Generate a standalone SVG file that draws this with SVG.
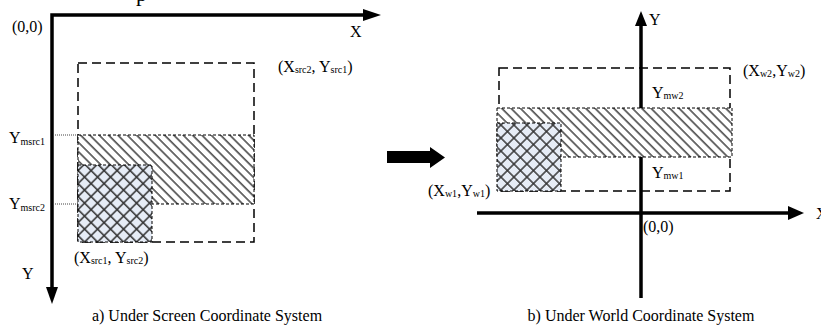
<svg xmlns="http://www.w3.org/2000/svg" width="821" height="329" viewBox="0 0 821 329">
<style>
text{font-family:"Liberation Serif","Times New Roman",serif;fill:#000;font-size:16px}
.sub{font-size:10px}
.axis{stroke:#000;stroke-width:3.5;fill:none}
.outer{fill:none;stroke:#000;stroke-width:1.5;stroke-dasharray:9 5}
.band{fill:url(#hatch);stroke:#000;stroke-width:1;stroke-dasharray:3 2}
.cross{fill:url(#cross);stroke:#000;stroke-width:1;stroke-dasharray:3 2}
.guide{stroke:#444;stroke-width:1;stroke-dasharray:1 1}
</style>
<defs>
<pattern id="hatch" patternUnits="userSpaceOnUse" width="6.6" height="6.6" patternTransform="rotate(-45)">
<rect width="6.6" height="6.6" fill="#fff"/>
<line x1="1" y1="0" x2="1" y2="6.6" stroke="#222" stroke-width="1.3"/>
</pattern>
<pattern id="cross" patternUnits="userSpaceOnUse" width="9.2" height="9.2" patternTransform="rotate(45)">
<rect width="9.2" height="9.2" fill="#e6ecf6"/>
<line x1="1" y1="0" x2="1" y2="9.2" stroke="#333" stroke-width="1.5"/>
<line x1="0" y1="1" x2="9.2" y2="1" stroke="#333" stroke-width="1.5"/>
</pattern>
</defs>

<text x="136" y="0.5" style="font-size:22px">p</text>

<g id="screen-axes">
<polyline class="axis" points="52,290 52,15 368,15"/>
<path d="M363,9 L381,15 L363,21 Z" fill="#000"/>
<path d="M46,287 L52,304 L58,287 Z" fill="#000"/>
<text x="12" y="32">(0,0)</text>
<text x="350" y="37">X</text>
<text x="22" y="279">Y</text>
</g>

<g id="screen-region">
<rect class="outer" x="78" y="63" width="176" height="179"/>
<rect class="band" x="78" y="135" width="176" height="69"/>
<rect class="cross" x="78" y="165" width="74" height="77"/>
</g>

<g id="connectors">
<line class="guide" x1="53" y1="135" x2="78" y2="135"/>
<line class="guide" x1="53" y1="204" x2="78" y2="204"/>
<path d="M387,151 L430,151 L430,147 L445,157.5 L430,168 L430,163 L387,163 Z" fill="#000"/>
</g>

<g id="screen-labels">
<text x="9" y="143">Y<tspan class="sub" dy="2">msrc1</tspan></text>
<text x="9" y="209">Y<tspan class="sub" dy="2">msrc2</tspan></text>
<text x="278" y="72">(X<tspan class="sub" dy="1">src2</tspan><tspan dy="-1">, Y</tspan><tspan class="sub" dy="1">src1</tspan><tspan dy="-1">)</tspan></text>
<text x="74" y="263">(X<tspan class="sub" dy="1">src1</tspan><tspan dy="-1">, Y</tspan><tspan class="sub" dy="1">src2</tspan><tspan dy="-1">)</tspan></text>
</g>

<text x="207" y="321" text-anchor="middle">a) Under Screen Coordinate System</text>

<g id="world-axes">
<line class="axis" x1="477" y1="213" x2="790" y2="213"/>
<path d="M788,206 L804,213 L788,220 Z" fill="#000"/>
<line class="axis" x1="641" y1="298" x2="641" y2="24"/>
<path d="M635,26 L641,11 L647,26 Z" fill="#000"/>
<text x="649" y="25">Y</text>
<text x="816" y="219">X</text>
<text x="643" y="232">(0,0)</text>
</g>

<g id="world-region">
<rect class="outer" x="499" y="68" width="231" height="123"/>
<rect class="band" x="497" y="108" width="235" height="49"/>
<rect class="cross" x="497" y="123" width="64" height="68"/>
</g>

<g id="world-labels">
<text x="743" y="76">(X<tspan class="sub" dy="1">w2</tspan><tspan dy="-1">,Y</tspan><tspan class="sub" dy="1">w2</tspan><tspan dy="-1">)</tspan></text>
<text x="652" y="98">Y<tspan class="sub" dy="1">mw2</tspan></text>
<text x="652" y="178">Y<tspan class="sub" dy="1">mw1</tspan></text>
<text x="428" y="196">(X<tspan class="sub" dy="1">w1</tspan><tspan dy="-1">,Y</tspan><tspan class="sub" dy="1">w1</tspan><tspan dy="-1">)</tspan></text>
</g>

<text x="641" y="321" text-anchor="middle">b) Under World Coordinate System</text>
</svg>
